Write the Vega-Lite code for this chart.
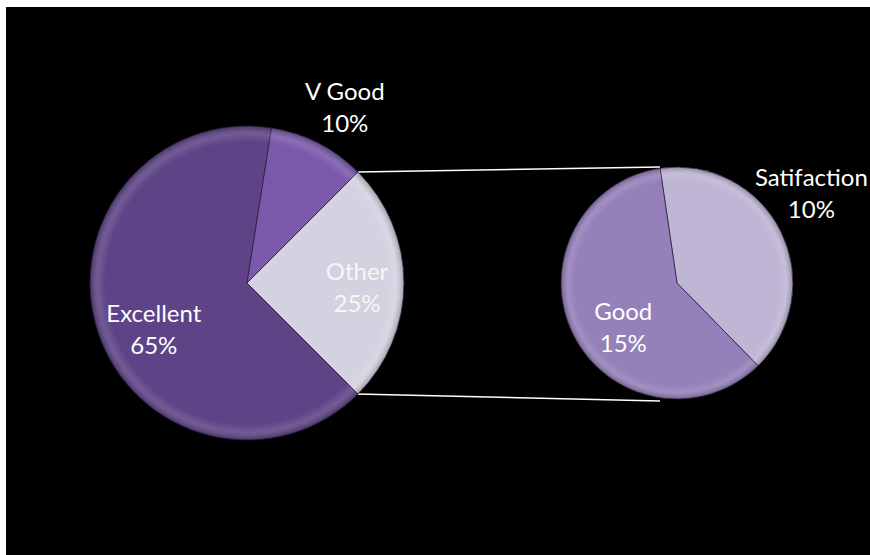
{
  "$schema": "https://vega.github.io/schema/vega-lite/v6.json",
  "width": 870,
  "height": 555,
  "autosize": {"type": "fit", "contains": "padding"},
  "padding": {"left": 6, "top": 7, "right": 0, "bottom": 0},
  "background": "white",
  "config": {
    "view": {"fill": "black", "stroke": null},
    "text": {"font": "Lato", "fontSize": 24, "lineHeight": 32, "lineBreak": "\n", "fill": "white", "align": "center", "baseline": "middle"}
  },
  "resolve": {"scale": {"theta": "independent"}},
  "layer": [
    {
      "data": {"values": [{}]},
      "mark": {"type": "rule", "color": "white", "strokeWidth": 1.5},
      "encoding": {
        "x": {"datum": 352, "type": "quantitative", "scale": {"domain": [0, 864], "nice": false, "zero": false}, "axis": null},
        "y": {"datum": 165, "type": "quantitative", "scale": {"domain": [0, 548], "nice": false, "zero": false, "reverse": true}, "axis": null},
        "x2": {"datum": 654},
        "y2": {"datum": 160}
      }
    },
    {
      "data": {"values": [{}]},
      "mark": {"type": "rule", "color": "white", "strokeWidth": 1.5},
      "encoding": {
        "x": {"datum": 351, "type": "quantitative"},
        "y": {"datum": 387, "type": "quantitative"},
        "x2": {"datum": 654},
        "y2": {"datum": 394}
      }
    },
    {
      "data": {"values": [
        {"category": "Other", "value": 25, "rank": 1},
        {"category": "Excellent", "value": 65, "rank": 2},
        {"category": "V Good", "value": 10, "rank": 3}
      ]},
      "transform": [
        {"stack": "value", "groupby": [], "sort": [{"field": "rank", "order": "ascending"}], "offset": "normalize", "as": ["v0", "v1"]},
        {"calculate": "(datum.v0 + datum.v1) / 2", "as": "mid"},
        {"calculate": "datum.category + '\\n' + datum.value + '%'", "as": "label"}
      ],
      "encoding": {
        "x": {"datum": 241, "type": "quantitative"},
        "y": {"datum": 276, "type": "quantitative"}
      },
      "layer": [
        {
          "mark": {"type": "arc", "radius": 157, "stroke": "#2a1d3e", "strokeWidth": 1, "strokeOpacity": 0.7},
          "encoding": {
            "theta": {"field": "v0", "type": "quantitative", "scale": {"domain": [0, 1], "range": [0.7854, 7.0686], "zero": false, "nice": false}},
            "theta2": {"field": "v1"},
            "color": {
              "field": "category", "type": "nominal", "legend": null,
              "scale": {"domain": ["Excellent", "V Good", "Other", "Good", "Satifaction"], "range": ["#5e4487", "#7a59aa", "#d6d1e0", "#9580ba", "#bfb5d4"]}
            }
          }
        },
        {
          "data": {"values": [{}]},
          "mark": {
            "type": "arc", "radius": 157, "theta": 0, "theta2": 6.2832,
            "fill": {"gradient": "radial", "x1": 0.5, "y1": 0.5, "r1": 0, "x2": 0.5, "y2": 0.5, "r2": 0.5,
              "stops": [
                {"offset": 0, "color": "rgba(255,255,255,0)"},
                {"offset": 0.9, "color": "rgba(255,255,255,0)"},
                {"offset": 0.95, "color": "rgba(255,255,255,0.12)"},
                {"offset": 1, "color": "rgba(0,0,0,0.25)"}
              ]}
          }
        },
        {
          "transform": [{"filter": "datum.category === 'Other'"}],
          "mark": {"type": "text", "radius": 110, "dy": -10},
          "encoding": {
            "theta": {"field": "mid", "type": "quantitative"},
            "text": {"field": "label"},
            "color": {"value": "#f6f6f6"}
          }
        },
        {
          "transform": [{"filter": "datum.category === 'Excellent'"}],
          "mark": {"type": "text", "radius": 98, "dy": 2},
          "encoding": {
            "theta": {"field": "mid", "type": "quantitative"},
            "text": {"field": "label"},
            "color": {"value": "white"}
          }
        },
        {
          "transform": [{"filter": "datum.category === 'V Good'"}],
          "mark": {"type": "text", "radius": 200, "dx": 7, "dy": -12},
          "encoding": {
            "theta": {"field": "mid", "type": "quantitative"},
            "text": {"field": "label"},
            "color": {"value": "white"}
          }
        }
      ]
    },
    {
      "data": {"values": [
        {"category": "Satifaction", "value": 10, "rank": 1},
        {"category": "Good", "value": 15, "rank": 2}
      ]},
      "transform": [
        {"stack": "value", "groupby": [], "sort": [{"field": "rank", "order": "ascending"}], "offset": "normalize", "as": ["v0", "v1"]},
        {"calculate": "(datum.v0 + datum.v1) / 2", "as": "mid"},
        {"calculate": "datum.category + '\\n' + datum.value + '%'", "as": "label"}
      ],
      "encoding": {
        "x": {"datum": 671, "type": "quantitative"},
        "y": {"datum": 276, "type": "quantitative"}
      },
      "layer": [
        {
          "mark": {"type": "arc", "radius": 116, "stroke": "#2a1d3e", "strokeWidth": 1, "strokeOpacity": 0.7},
          "encoding": {
            "theta": {"field": "v0", "type": "quantitative", "scale": {"domain": [0, 1], "range": [-0.1466, 6.1366], "zero": false, "nice": false}},
            "theta2": {"field": "v1"},
            "color": {"field": "category", "type": "nominal", "legend": null}
          }
        },
        {
          "data": {"values": [{}]},
          "mark": {
            "type": "arc", "radius": 116, "theta": 0, "theta2": 6.2832,
            "fill": {"gradient": "radial", "x1": 0.5, "y1": 0.5, "r1": 0, "x2": 0.5, "y2": 0.5, "r2": 0.5,
              "stops": [
                {"offset": 0, "color": "rgba(255,255,255,0)"},
                {"offset": 0.88, "color": "rgba(255,255,255,0)"},
                {"offset": 0.94, "color": "rgba(255,255,255,0.12)"},
                {"offset": 1, "color": "rgba(0,0,0,0.25)"}
              ]}
          }
        },
        {
          "transform": [{"filter": "datum.category === 'Good'"}],
          "mark": {"type": "text", "radius": 60, "dy": 3},
          "encoding": {
            "theta": {"field": "mid", "type": "quantitative"},
            "text": {"field": "label"},
            "color": {"value": "white"}
          }
        },
        {
          "transform": [{"filter": "datum.category === 'Satifaction'"}],
          "mark": {"type": "text", "radius": 150, "dy": -37},
          "encoding": {
            "theta": {"field": "mid", "type": "quantitative"},
            "text": {"field": "label"},
            "color": {"value": "white"}
          }
        }
      ]
    }
  ]
}
